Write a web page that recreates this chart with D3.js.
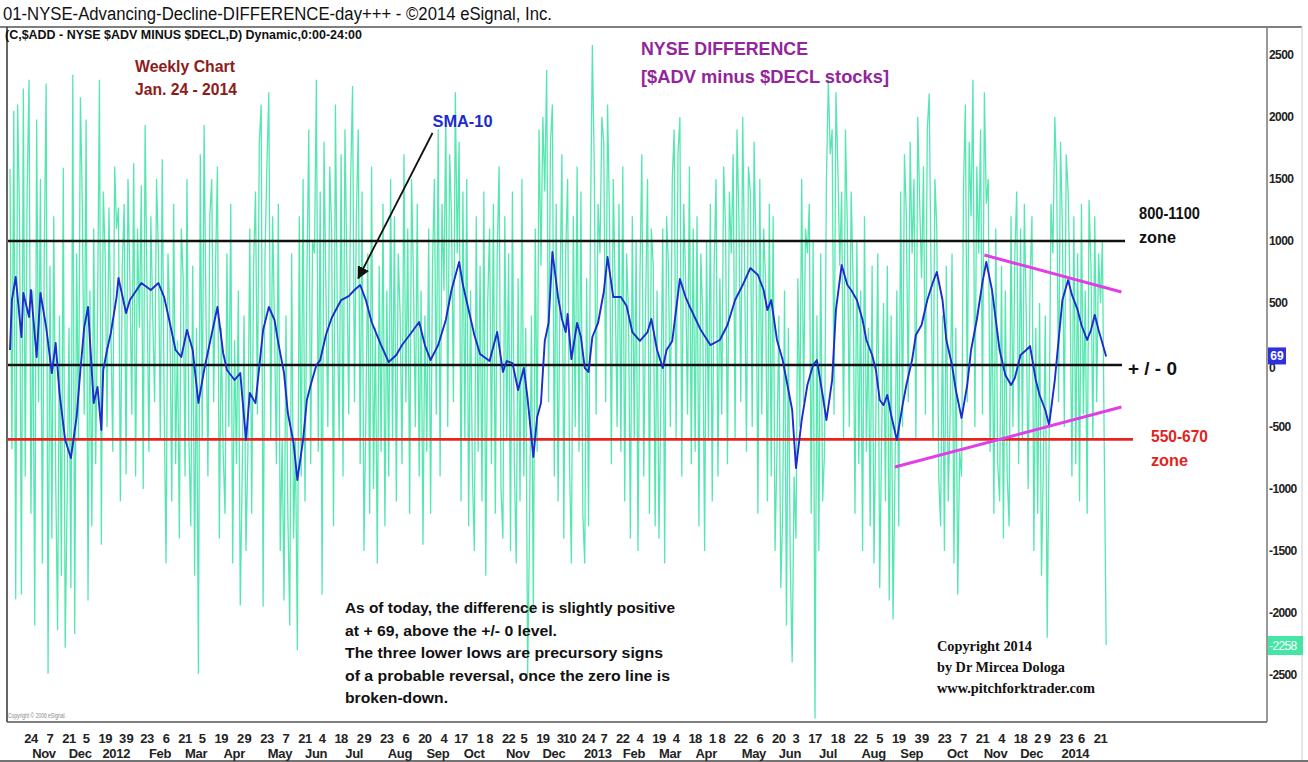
<!DOCTYPE html>
<html><head><meta charset="utf-8">
<script src="https://cdn.jsdelivr.net/npm/d3@7"></script>
<style>
html,body{margin:0;padding:0;background:#fff;}
svg{display:block;font-family:"Liberation Sans",Arial,Helvetica,sans-serif;}
</style></head><body>
<svg id="c" width="1308" height="762"></svg>
<script>
// ---------------- DATA ----------------
const startDate = "2011-10-07";
const endDate = "2014-01-24";
const holidays = ["2011-11-24","2011-12-26","2012-01-02","2012-01-16","2012-02-20","2012-04-06","2012-05-28",
  "2012-07-04","2012-09-03","2012-10-29","2012-10-30","2012-11-22","2012-12-25","2013-01-01","2013-01-21",
  "2013-02-18","2013-03-29","2013-05-27","2013-07-04","2013-09-02","2013-11-28","2013-12-25","2014-01-01","2014-01-20"];

// daily NYSE $ADV - $DECL, one value per trading day
const dailyDiff = [
 1580,-680,2050,-1890,2100,1200,-1850,2230,-900,1400,2300,-1200,600,-2100,1980,-300,1500,-1600,900,2270,
 -2490,800,-1400,1200,-900,-2140,400,-1700,1590,-2280,-1100,300,-1800,2340,-2170,900,-600,2160,1300,-400,
 1980,-1900,600,-1300,1100,-800,400,2300,-1450,1400,900,-500,1270,300,-700,1600,1100,1270,-1100,800,
 1300,-880,1500,700,-400,1630,-900,1100,300,1450,-1000,1935,600,-700,1200,400,-300,1500,900,-600,
 1660,-300,-1600,900,400,-1100,1300,-800,200,-1400,1100,700,-900,1500,-600,-1300,800,-1700,300,-2490,
 1700,-600,1935,400,-900,1200,1500,-300,800,1600,-1400,300,-700,-1200,900,-500,1300,-1600,200,-800,
 600,-1940,-900,400,-1500,-700,1100,-1200,800,1400,-400,1800,2100,-1950,900,1600,2200,-600,1200,300,
 -800,1300,-1500,-600,-1900,400,-1200,-2100,900,-1400,-600,-2300,1200,-900,1500,-1100,700,1900,-800,1000,
 900,2300,-700,1400,-1850,1800,600,-500,1600,1100,-1300,2100,400,-600,1700,-900,1900,800,-400,1500,
 2250,-300,1200,1900,-800,1400,-1500,-400,900,-1200,1600,-1000,300,-1600,800,-700,1300,-1300,600,-900,
 1500,-600,1200,-1100,900,400,-800,1700,-300,1100,-1200,1500,700,-500,1300,-900,600,-1450,400,-700,
 1100,-1200,800,1500,-400,1900,-900,1300,600,2000,-500,1700,1200,-300,2200,900,1800,-1100,1400,-600,
 1500,-1300,600,-900,-1500,1200,-700,800,-1100,1400,-1700,500,1100,-800,1300,-1200,900,1600,-1000,-1400,
 1200,-600,900,-1500,1400,-800,-1600,700,-1100,1500,-900,300,-2500,-1300,400,-2000,1100,-700,1900,800,
 2000,1400,2380,-300,1800,2100,-900,1300,-1100,600,1700,-1400,900,1500,-800,-1600,1200,-500,1600,-700,
 1400,-1200,-1600,700,-1300,1100,2580,1600,-400,1300,900,2000,1800,-300,2100,1200,-800,1500,600,-500,
 1300,-700,1600,-1100,900,400,-1400,1200,-600,1000,-1500,700,1700,-900,500,1500,-1200,1100,800,-1300,
 600,-1400,-300,1100,-1600,1200,800,-500,1500,1900,-600,1700,2000,-900,1300,700,-400,1600,-800,1100,
 -700,1200,-1300,900,400,-1500,1000,-600,1300,-1100,800,1500,-900,700,-400,1600,1100,-800,1400,900,
 1700,-600,1900,1200,-300,2000,800,-700,1600,1400,-500,1800,900,-1200,1500,-400,1100,700,-1100,1300,
 -900,1200,-1500,-700,400,-1800,-1200,600,-2100,300,-1600,-2400,-900,-1400,700,-500,1500,-300,1100,900,
 1300,-1200,1000,-2850,400,-1500,900,-1100,-700,1500,2300,1700,1900,-400,2200,1600,800,1400,-600,1900,
 1100,-500,1400,700,-1200,1000,-800,600,-1500,1200,-700,300,-1300,800,-1600,-400,900,-1800,-600,500,
 -1100,800,-1900,400,-2050,-900,600,-1300,1400,-500,1700,1200,-300,1800,900,1500,-600,2000,1300,700,
 1600,-400,1900,2190,700,-600,1500,1100,-900,-1300,400,-1500,800,-1100,-400,900,-1600,300,-1850,-700,
 -900,1400,2100,-300,1800,1200,2300,-500,1600,900,1900,-400,2200,1300,1500,-700,600,-1200,1100,-800,
 -1100,800,-1400,600,-900,-1300,1200,-500,900,1400,-800,1100,-600,1300,400,-1000,700,1200,-1500,300,
 -1200,500,-1700,-800,400,-2200,-600,1300,900,2000,1500,-300,1800,1100,-500,1700,1400,600,-900,1200,
 -800,900,-1100,1300,-400,600,-1200,1330,800,-600,1200,-300,900,500,1000,-700,-2258
];

// SMA-10 (blue), read at trading-day positions
const smaDay = [
 0,1,3,6,7,10,11,14,16,19, 22,24,26,29,32,35,37,39,41,42, 44,46,48,49,51,53,56,57,61,63,
 69,74,78,81,84,87,90,93,96,99, 102,105,109,112,114,118,121,124,126,129, 133,136,139,141,144,146,149,151,154,156,
 158,161,163,166,169,174,178,181,184,187, 190,195,199,203,206,210,215,218,221,225, 229,232,236,238,241,244,247,252,256,259,
 261,264,267,270,272,275,277,279,281,283, 285,288,290,292,293,295,298,300,302,304, 306,309,312,314,317,321,324,327,331,335,
 337,340,343,345,348,352,355,357,363,368, 373,377,381,385,389,393,396,398,400,403, 406,408,411,413,416,419,422,424,427,429,
 432,434,437,440,442,445,448,450,453,455, 457,459,461,463,466,469,471,474,476,479, 482,485,487,490,492,495,497,500,503,505,
 508,511,513,516,518,520,523,526,528,531, 534,536,539,541,544,546,549,551,553,556, 558,561,563,566,568,570,572,576
];
const smaValue = [
 121,524,710,226,581,387,605,65,581,306, -65,177,-226,-605,-750,-419,-40,306,468,202, -306,-177,-524,-40,121,258,548,702,419,524,
 661,605,661,548,339,121,65,282,121,-306, -40,177,468,97,-40,-121,-65,-605,-226,-306, 282,468,363,177,-65,-387,-629,-927,-605,-282,
 -161,0,40,242,379,524,556,605,645,524, 347,161,24,81,161,242,347,161,40,161, 363,605,831,645,444,242,89,32,266,-56,
 32,16,-202,-24,-274,-742,-419,-306,194,339, 911,548,371,266,411,48,339,226,-24,-56, 226,339,589,871,548,548,476,266,194,266,
 371,121,-24,121,194,694,548,476,282,161, 202,323,524,645,782,726,605,444,524,202, 40,-121,-363,-831,-444,-161,0,40,-242,-444,
 -121,444,806,645,605,524,363,202,81,-40, -282,-323,-242,-403,-605,-323,-161,40,242,323, 524,669,750,524,202,0,-202,-427,-161,121,
 363,669,831,605,363,121,-81,-161,-105,81, 121,153,-121,-242,-363,-484,-121,202,524,685, 565,444,323,202,282,403,282,69
];

const yTicks = [2500,2000,1500,1000,500,0,-500,-1000,-1500,-2000,-2500];
const dayTickDates = ["2011-10-24","2011-11-07","2011-11-21","2011-12-05","2011-12-19",
 "2012-01-03","2012-01-09","2012-01-23","2012-02-06","2012-02-21","2012-03-05","2012-03-19","2012-04-02","2012-04-09",
 "2012-04-23","2012-05-07","2012-05-21","2012-06-04","2012-06-18","2012-07-02","2012-07-09","2012-07-23","2012-08-06",
 "2012-08-20","2012-09-04","2012-09-17","2012-10-01","2012-10-08","2012-10-22","2012-11-05","2012-11-19","2012-12-03",
 "2012-12-10","2012-12-24","2013-01-07","2013-01-22","2013-02-04","2013-02-19","2013-03-04","2013-03-18","2013-04-01",
 "2013-04-08","2013-04-22","2013-05-06","2013-05-20","2013-06-03","2013-06-17","2013-07-01","2013-07-08","2013-07-22",
 "2013-08-05","2013-08-19","2013-09-03","2013-09-09","2013-09-23","2013-10-07","2013-10-21","2013-11-04","2013-11-18",
 "2013-12-02","2013-12-09","2013-12-23","2014-01-06","2014-01-21"];
const monthLabels = ["Nov","Dec","2012","Feb","Mar","Apr","May","Jun","Jul","Aug","Sep","Oct","Nov","Dec",
 "2013","Feb","Mar","Apr","May","Jun","Jul","Aug","Sep","Oct","Nov","Dec","2014"];
const monthDates = ["2011-11-07","2011-12-05","2012-01-03","2012-02-06","2012-03-05","2012-04-02","2012-05-07",
 "2012-06-04","2012-07-02","2012-08-06","2012-09-04","2012-10-01","2012-11-05","2012-12-03","2013-01-07","2013-02-04",
 "2013-03-04","2013-04-01","2013-05-06","2013-06-03","2013-07-01","2013-08-05","2013-09-03","2013-10-07","2013-11-04",
 "2013-12-02","2014-01-06"];

const levelValues = [1000, 0, -600];
const levelColors = ["#111","#111","#e8231d"];
const levelEnds = [1125, 1122, 1133];
const upperTrendDay = [512, 584], upperTrendVal = [887, 589];
const lowerTrendDay = [465, 584], lowerTrendVal = [-823, -339];
const arrowDay = [222, 183], arrowVal = [1871, 700];

// ---------------- DATES ----------------
const dates = [];
{
  const hs = new Set(holidays);
  let d = new Date(startDate + "T00:00:00Z");
  const e = new Date(endDate + "T00:00:00Z");
  while (d <= e) {
    const wd = d.getUTCDay();
    const s = d.toISOString().slice(0, 10);
    if (wd !== 0 && wd !== 6 && !hs.has(s)) dates.push(s);
    d = new Date(d.getTime() + 86400000);
  }
}
const idx = s => dates.indexOf(s);

// ---------------- SCALES ----------------
const L = 7, R = 1267, T = 27, B = 722;
const x = d3.scaleLinear().domain([0, 660.5]).range([10, 1267]);
const y = d3.scaleLinear().domain([-2879, 2726]).range([B, T]);

const svg = d3.select("#c");
svg.append("rect").attr("width", 1308).attr("height", 762).attr("fill", "#fff");

svg.append("defs").append("clipPath").attr("id", "clip")
  .append("rect").attr("x", L + 1).attr("y", T + 1).attr("width", R - L - 1).attr("height", B - T - 1);
svg.select("defs").append("marker").attr("id", "ah").attr("viewBox", "0 0 10 10")
  .attr("refX", 9).attr("refY", 5).attr("markerWidth", 7).attr("markerHeight", 7).attr("orient", "auto")
  .append("path").attr("d", "M0,0 L10,5 L0,10 z").attr("fill", "#111");

const plot = svg.append("g").attr("clip-path", "url(#clip)");

// daily green line
const n = Math.min(dailyDiff.length, dates.length);
plot.append("path")
  .datum(dailyDiff.slice(0, n))
  .attr("fill", "none").attr("stroke", "#55e7b0").attr("stroke-width", 1.3)
  .attr("d", d3.line().x((d, i) => x(i)).y(d => y(d)));

// level lines
levelValues.forEach((v, k) => {
  plot.append("line").attr("x1", L).attr("x2", levelEnds[k])
    .attr("y1", y(v)).attr("y2", y(v))
    .attr("stroke", levelColors[k]).attr("stroke-width", 2.6);
});

// SMA-10 blue line
plot.append("path")
  .datum(smaDay.map((d, i) => [d, smaValue[i]]))
  .attr("fill", "none").attr("stroke", "#1d2bd0").attr("stroke-width", 1.9)
  .attr("stroke-linejoin", "round")
  .attr("d", d3.line().x(d => x(d[0])).y(d => y(d[1])));

// magenta trend lines
[[upperTrendDay, upperTrendVal], [lowerTrendDay, lowerTrendVal]].forEach(([ds, vs]) => {
  svg.append("line").attr("x1", x(ds[0])).attr("y1", y(vs[0])).attr("x2", x(ds[1])).attr("y2", y(vs[1]))
    .attr("stroke", "#e23ee6").attr("stroke-width", 3);
});

// arrow
svg.append("line").attr("x1", x(arrowDay[0])).attr("y1", y(arrowVal[0]))
  .attr("x2", x(arrowDay[1])).attr("y2", y(arrowVal[1]))
  .attr("stroke", "#111").attr("stroke-width", 1.8).attr("marker-end", "url(#ah)");

// ---------------- FRAME ----------------
const fr = svg.append("g").attr("stroke-width", 1.5).attr("fill", "none");
fr.append("line").attr("x1", 0).attr("x2", 1302).attr("y1", T).attr("y2", T).attr("stroke", "#555");
fr.append("line").attr("x1", L).attr("x2", L).attr("y1", T).attr("y2", B).attr("stroke", "#333");
fr.append("line").attr("x1", L).attr("x2", R).attr("y1", B).attr("y2", B).attr("stroke", "#555");
fr.append("line").attr("x1", R).attr("x2", R).attr("y1", T).attr("y2", B).attr("stroke", "#777");
fr.append("line").attr("x1", 1302).attr("x2", 1302).attr("y1", T).attr("y2", 761).attr("stroke", "#ddd");
fr.append("line").attr("x1", 0).attr("x2", 1308).attr("y1", 761).attr("y2", 761).attr("stroke", "#444");

// ---------------- Y AXIS (right) ----------------
const ya = svg.append("g").attr("font-size", 12).attr("font-weight", "bold").attr("fill", "#222");
yTicks.forEach(v => {
  ya.append("text").attr("x", R + 2).attr("y", y(v) + (v === 0 ? 7 : 4)).attr("letter-spacing", -0.6).text(v);
});
// current-value flags
const lastSma = smaValue[smaValue.length - 1];
const lastDaily = dailyDiff[dailyDiff.length - 1];
svg.append("rect").attr("x", R + 1).attr("y", y(lastSma) - 9).attr("width", 18).attr("height", 17).attr("fill", "#2f2fe0");
svg.append("text").attr("x", R + 10).attr("y", y(lastSma) + 4).attr("text-anchor", "middle")
  .attr("font-size", 12).attr("font-weight", "bold").attr("fill", "#fff").text(lastSma);
svg.append("rect").attr("x", R + 1).attr("y", y(lastDaily) - 9).attr("width", 35).attr("height", 19).attr("fill", "#44e6a6");
svg.append("text").attr("x", R + 2).attr("y", y(lastDaily) + 5)
  .attr("font-size", 12).attr("fill", "#fff").attr("letter-spacing", -0.6).text(lastDaily);

// ---------------- X AXIS ----------------
const xa = svg.append("g").attr("font-size", 13).attr("font-weight", "bold").attr("fill", "#222").attr("text-anchor", "middle");
dayTickDates.forEach(s => {
  xa.append("text").attr("x", x(idx(s))).attr("y", 743).attr("letter-spacing", -0.5).text(+s.slice(8, 10));
});
monthLabels.forEach((m, k) => {
  xa.append("text").attr("x", x(idx(monthDates[k])) - 6).attr("y", 758).attr("letter-spacing", -0.3).text(m);
});

// ---------------- TEXTS ----------------
function txt(t, xx, yy, o) {
  const e = svg.append("text").attr("x", xx).attr("y", yy).text(t)
    .attr("font-size", o.size).attr("fill", o.fill || "#111").attr("font-weight", o.bold ? "bold" : "normal");
  if (o.family) e.attr("font-family", o.family);
  if (o.w) e.attr("textLength", o.w).attr("lengthAdjust", "spacingAndGlyphs");
  return e;
}
txt("01-NYSE-Advancing-Decline-DIFFERENCE-day+++ - \u00A92014 eSignal, Inc.", 3, 20, {size: 18, w: 549, fill: "#111"});
txt("(C,$ADD - NYSE $ADV MINUS $DECL,D) Dynamic,0:00-24:00", 5, 39, {size: 12, bold: true, w: 357});
txt("Weekly Chart", 135, 72, {size: 16, bold: true, fill: "#8e1b1b", w: 100});
txt("Jan. 24 - 2014", 135, 95, {size: 16, bold: true, fill: "#8e1b1b", w: 102});
txt("NYSE DIFFERENCE", 641, 55, {size: 18, bold: true, fill: "#93259a", w: 167});
txt("[$ADV minus $DECL stocks]", 641, 83, {size: 18, bold: true, fill: "#93259a", w: 248});
txt("SMA-10", x(arrowDay[0]), y(arrowVal[0]) - 6, {size: 16, bold: true, fill: "#1d2bd0", w: 60});
txt("800-1100", 1139, 219, {size: 16, bold: true, w: 61});
txt("zone", 1139, 243, {size: 16, bold: true, w: 37});
txt("+ / - 0", 1128, 375, {size: 19, bold: true, w: 49});
txt("550-670", 1151, 442, {size: 16, bold: true, fill: "#e2231d", w: 57});
txt("zone", 1151, 466, {size: 16, bold: true, fill: "#e2231d", w: 37});

const note = ["As of today, the difference is slightly positive", "at + 69, above the +/- 0 level.",
  "The three lower lows are precursory signs", "of a probable reversal, once the zero line is", "broken-down."];
const noteW = [330, 212, 318, 325, 103];
note.forEach((t, k) => txt(t, 345, 613 + k * 22.5, {size: 15, bold: true, w: noteW[k]}));

const copy = ["Copyright 2014", "by Dr Mircea Dologa", "www.pitchforktrader.com"];
const copyW = [95, 128, 158];
copy.forEach((t, k) => txt(t, 937, 651 + k * 21, {size: 14, bold: true, family: "'Liberation Serif','Times New Roman',serif", w: copyW[k]}));

txt("Copyright \u00A9 2006 eSignal.", 8, 718, {size: 7, fill: "#888", w: 58});
</script>
</body></html>
